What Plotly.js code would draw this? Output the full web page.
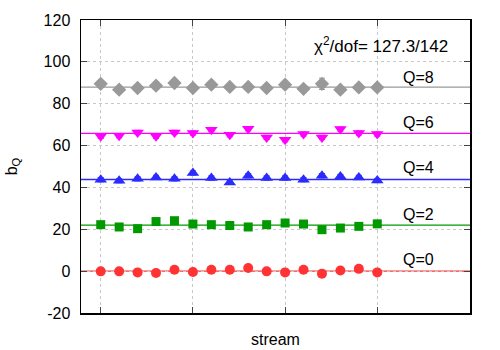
<!DOCTYPE html>
<html><head><meta charset="utf-8">
<script src="https://cdn.plot.ly/plotly-3.0.1.min.js"></script>
<style>html,body{margin:0;padding:0;background:#fff}#c{width:500px;height:350px}</style>
</head><body><div id="c"></div>
<script>
const streams = [1,2,3,4,5,6,7,8,9,10,11,12,13,14,15,16];
const q0 = [-0.1,-0.1,-0.6,-0.9,0.7,-0.4,0.7,0.7,1.5,-0.1,-0.6,0.7,-1.2,0.3,1.1,-0.6];
const q2 = [22.2,21.1,20.3,23.7,24.1,22.5,22.2,21.8,21.1,22.2,23.0,22.5,19.8,20.6,21.4,22.6];
const q4 = [43.7,43.2,44.1,44.8,44.1,46.9,44.5,42.4,45.6,44.5,44.5,43.7,45.6,45.2,44.8,43.3];
const q6 = [64.4,64.7,66.3,64.4,66.3,66.0,67.6,65.2,68.0,63.9,62.8,65.5,63.9,67.9,66.0,65.5];
const q8 = [89.5,86.7,87.5,88.6,89.9,87.5,89.1,88.0,88.0,87.5,89.1,87.1,89.5,86.7,87.8,87.8];
const q8err = [1,1,1,1,1,1,1,1,1,1,1,1,2.7,1,1,1];
const errSmall = [1,1,1,1,1,1,1,1,1,1,1,1,1,1,1,1];
const fitValues = [0, 22.0, 43.8, 65.8, 87.9];
const seriesLabels = ['Q=0','Q=2','Q=4','Q=6','Q=8'];
const labelY = [5.4, 27.0, 49.4, 70.9, 92.7];
const colors = ['#ff3333','#009900','#2b2bff','#ff00ff','#999999'];
const symbols = ['circle','square','triangle-up','triangle-down','diamond'];
const sizes = [10,9,11,11,11];
const xTicks = [1,6,11,16];
const yTicks = [-20,0,20,40,60,80,100,120];
const yTickText = ['-20','0','20','40','60','80','100','120'];
const chiText = 'χ<sup>2</sup>/dof= 127.3/142';

const series = [q0,q2,q4,q6,q8];
const errs = [errSmall,errSmall,errSmall,errSmall,q8err];
const font = 'Liberation Sans, Arial, sans-serif';

const traces = series.map((s,i)=>({
  x: streams, y: s, type:'scatter', mode:'markers',
  marker:{symbol:symbols[i], size:sizes[i], color:colors[i]},
  error_y:{type:'data', array:errs[i], visible:true, color:colors[i], thickness:1, width:3},
  showlegend:false, hoverinfo:'none'
}));

const shapes = fitValues.map((v,i)=>({
  type:'line', xref:'paper', x0:0, x1:1, yref:'y', y0:v, y1:v,
  line:{color:colors[i], width:1.3}, layer:'below'
}));

const annotations = seriesLabels.map((t,i)=>({
  x:18.26, y:labelY[i], xref:'x', yref:'y', text:t, showarrow:false,
  xanchor:'center', yanchor:'middle',
  font:{family:font, size:16, color:'#000'}
}));
annotations.push({x:0.771, y:0.915, xref:'paper', yref:'paper', text:chiText, showarrow:false,
  xanchor:'center', yanchor:'middle',
  font:{family:font, size:17, color:'#000'}});

const layout = {
  width:500, height:350,
  margin:{l:81, r:30, t:20, b:37},
  paper_bgcolor:'#fff', plot_bgcolor:'#fff',
  font:{family:font, size:16, color:'#000'},
  xaxis:{range:[-0.07,21.03], tickvals:xTicks, showticklabels:false, ticks:'inside', ticklen:6,
    showgrid:true, gridcolor:'#c8c8c8', griddash:'dot', gridwidth:1,
    showline:true, linecolor:'#000', linewidth:1.5, mirror:'ticks', zeroline:false,
    title:{text:'stream', font:{family:font, size:16}, standoff:20}},
  yaxis:{range:[-20,120], tickvals:yTicks, ticktext:yTickText, ticks:'inside', ticklen:6,
    ticklabelstandoff:6,
    showgrid:true, gridcolor:'#c8c8c8', griddash:'dot', gridwidth:1,
    showline:true, linecolor:'#000', linewidth:1.5, mirror:'ticks', zeroline:false,
    tickfont:{family:font, size:16},
    title:{text:'b<sub>Q</sub>', font:{family:font, size:16}, standoff:22}},
  shapes:shapes, annotations:annotations
};
Plotly.newPlot('c', traces, layout, {staticPlot:true, displayModeBar:false});
</script></body></html>
